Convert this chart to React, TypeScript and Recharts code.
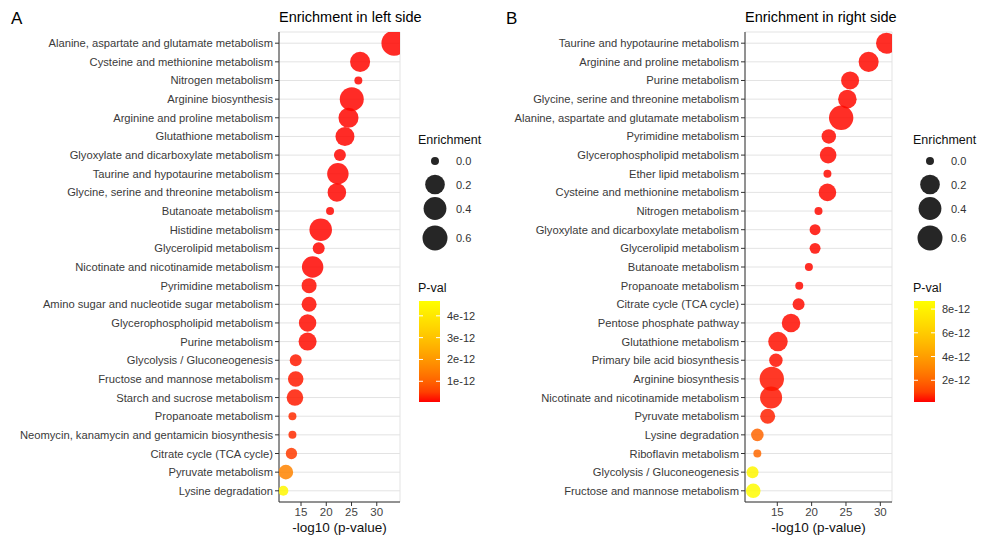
import { ScatterChart, Scatter, XAxis, YAxis, ZAxis, CartesianGrid, Cell } from "recharts";

// ---- panel A: enrichment in left side (top to bottom) ----
const leftPathways = [
  "Alanine, aspartate and glutamate metabolism",
  "Cysteine and methionine metabolism",
  "Nitrogen metabolism",
  "Arginine biosynthesis",
  "Arginine and proline metabolism",
  "Glutathione metabolism",
  "Glyoxylate and dicarboxylate metabolism",
  "Taurine and hypotaurine metabolism",
  "Glycine, serine and threonine metabolism",
  "Butanoate metabolism",
  "Histidine metabolism",
  "Glycerolipid metabolism",
  "Nicotinate and nicotinamide metabolism",
  "Pyrimidine metabolism",
  "Amino sugar and nucleotide sugar metabolism",
  "Glycerophospholipid metabolism",
  "Purine metabolism",
  "Glycolysis / Gluconeogenesis",
  "Fructose and mannose metabolism",
  "Starch and sucrose metabolism",
  "Propanoate metabolism",
  "Neomycin, kanamycin and gentamicin biosynthesis",
  "Citrate cycle (TCA cycle)",
  "Pyruvate metabolism",
  "Lysine degradation",
];
const leftNegLog10P = [
  33.4, 26.7, 26.35, 25.05, 24.4, 23.7, 22.7, 22.3, 22.1, 20.75, 18.9, 18.5, 17.3,
  16.6, 16.6, 16.3, 16.3, 13.95, 13.95, 13.8, 13.3, 13.3, 13.1, 12.0, 11.5,
];
const leftEnrichment = [
  0.6, 0.22, 0.0, 0.5, 0.22, 0.17, 0.012, 0.3, 0.15, 0.0, 0.38, 0.012, 0.3,
  0.05, 0.05, 0.11, 0.13, 0.012, 0.06, 0.086, 0.0, 0.0, 0.008, 0.043, 0.0025,
];
const leftPval = [
  0.06e-12, 0.06e-12, 0.06e-12, 0.06e-12, 0.06e-12, 0.06e-12, 0.06e-12, 0.06e-12, 0.06e-12,
  0.06e-12, 0.06e-12, 0.06e-12, 0.06e-12, 0.08e-12, 0.08e-12, 0.08e-12, 0.08e-12,
  0.15e-12, 0.15e-12, 0.15e-12, 0.3e-12, 0.3e-12, 0.45e-12, 1.6e-12, 4.45e-12,
];
const leftXTicks = [15, 20, 25, 30];
const leftGridTicks = [12.5, 15, 17.5, 20, 22.5, 25, 27.5, 30, 32.5];
const leftPTicks = [1e-12, 2e-12, 3e-12, 4e-12];

// ---- panel B: enrichment in right side (top to bottom) ----
const rightPathways = [
  "Taurine and hypotaurine metabolism",
  "Arginine and proline metabolism",
  "Purine metabolism",
  "Glycine, serine and threonine metabolism",
  "Alanine, aspartate and glutamate metabolism",
  "Pyrimidine metabolism",
  "Glycerophospholipid metabolism",
  "Ether lipid metabolism",
  "Cysteine and methionine metabolism",
  "Nitrogen metabolism",
  "Glyoxylate and dicarboxylate metabolism",
  "Glycerolipid metabolism",
  "Butanoate metabolism",
  "Propanoate metabolism",
  "Citrate cycle (TCA cycle)",
  "Pentose phosphate pathway",
  "Glutathione metabolism",
  "Primary bile acid biosynthesis",
  "Arginine biosynthesis",
  "Nicotinate and nicotinamide metabolism",
  "Pyruvate metabolism",
  "Lysine degradation",
  "Riboflavin metabolism",
  "Glycolysis / Gluconeogenesis",
  "Fructose and mannose metabolism",
];
const rightNegLog10P = [
  30.9, 28.3, 25.6, 25.2, 24.3, 22.5, 22.4, 22.3, 22.3, 21.0, 20.5, 20.5, 19.6,
  18.2, 18.1, 17.0, 15.1, 14.8, 14.2, 14.1, 13.6, 12.1, 12.1, 11.4, 11.5,
];
const rightEnrichment = [
  0.27, 0.22, 0.13, 0.15, 0.54, 0.04, 0.086, 0.0, 0.115, 0.0, 0.006, 0.006, 0.0,
  0.0, 0.012, 0.15, 0.19, 0.026, 0.54, 0.34, 0.05, 0.017, 0.0, 0.012, 0.043,
];
const rightPval = [
  0.2e-12, 0.2e-12, 0.2e-12, 0.2e-12, 0.2e-12, 0.2e-12, 0.2e-12, 0.2e-12, 0.2e-12,
  0.2e-12, 0.2e-12, 0.2e-12, 0.2e-12, 0.2e-12, 0.22e-12, 0.22e-12, 0.25e-12, 0.25e-12,
  0.3e-12, 0.3e-12, 0.45e-12, 2.0e-12, 2.1e-12, 8.2e-12, 8.5e-12,
];
const rightXTicks = [15, 20, 25, 30];
const rightGridTicks = [12.5, 15, 17.5, 20, 22.5, 25, 27.5, 30];
const rightPTicks = [2e-12, 4e-12, 6e-12, 8e-12];

const sizeBreaks = [0.0, 0.2, 0.4, 0.6];
const sizeRange = [50, 618]; // symbol area, px^2
const FONT = "'Liberation Sans', Arial, sans-serif";

// red -> yellow, roughly like ggplot's Lab gradient
function gradColor(t: number) {
  const c = Math.min(1, Math.max(0, t));
  return `rgb(255,${Math.round(255 * Math.pow(c, 0.6))},0)`;
}

function keyRadius(v: number) {
  const area = sizeRange[0] + (sizeRange[1] - sizeRange[0]) * Math.sqrt(v);
  return Math.sqrt(area / Math.PI);
}

// single-line category label (recharts would wrap long ones)
function RowTick(props: any) {
  const { x, y, payload, names } = props;
  return (
    <text x={x} y={y} textAnchor="end" dominantBaseline="central" fontSize={11.2} fill="#3A3A3A">
      {names[payload.value]}
    </text>
  );
}

interface PanelProps {
  left: number;
  yAxisWidth: number;
  plotWidth: number;
  names: string[];
  xs: number[];
  zs: number[];
  ps: number[];
  xDomain: [number, number];
  xTicks: number[];
  gridTicks: number[];
  pDomain: [number, number];
}

function Panel({ left, yAxisWidth, plotWidth, names, xs, zs, ps, xDomain, xTicks, gridTicks, pDomain }: PanelProps) {
  const rows = names.map((name, i) => ({ name, row: i, x: xs[i], z: zs[i], p: ps[i] }));
  const rowTicks = names.map((_, i) => i);
  const width = yAxisWidth + plotWidth + 2;
  return (
    <div style={{ position: "absolute", left, top: 0 }}>
      <ScatterChart width={width} height={536} margin={{ top: 32, right: 2, bottom: 0, left: 0 }}>
        <CartesianGrid xAxisId="top" stroke="#E3E3E3" strokeWidth={1} />
        <XAxis
          type="number"
          dataKey="x"
          domain={xDomain}
          ticks={xTicks}
          allowDataOverflow
          height={34}
          tickSize={4}
          tickMargin={2}
          tick={{ fontSize: 11.5, fill: "#444" }}
          tickLine={{ stroke: "#333" }}
          axisLine={{ stroke: "#333" }}
          label={{ value: "-log10 (p-value)", position: "insideBottom", offset: 4, fontSize: 13.5, fill: "#111" }}
        />
        <XAxis
          xAxisId="top"
          orientation="top"
          type="number"
          domain={xDomain}
          ticks={gridTicks}
          allowDataOverflow
          height={0}
          tick={false}
          tickLine={false}
          axisLine={{ stroke: "#333" }}
        />
        <YAxis
          type="number"
          dataKey="row"
          domain={[-0.6, names.length - 0.4]}
          reversed
          allowDataOverflow
          ticks={rowTicks}
          interval={0}
          width={yAxisWidth}
          tickSize={4}
          tickMargin={2}
          tick={<RowTick names={names} />}
          tickLine={{ stroke: "#333" }}
          axisLine={{ stroke: "#333" }}
        />
        <YAxis
          yAxisId="right"
          orientation="right"
          type="number"
          domain={[0, 1]}
          width={0}
          tick={false}
          tickLine={false}
          axisLine={{ stroke: "#333" }}
        />
        <ZAxis type="number" dataKey="z" domain={[0, 1]} range={sizeRange} scale="sqrt" />
        <Scatter data={rows} isAnimationActive={false} fillOpacity={0.85}>
          {rows.map((r, i) => (
            <Cell key={`c-${i}`} fill={gradColor((r.p - pDomain[0]) / (pDomain[1] - pDomain[0]))} />
          ))}
        </Scatter>
      </ScatterChart>
    </div>
  );
}

interface LegendProps {
  x: number;
  pDomain: [number, number];
  pTicks: number[];
  gradId: string;
}

function Legend({ x, pDomain, pTicks, gradId }: LegendProps) {
  const keyY = [161, 184.5, 208.5, 238];
  const barTop = 301;
  const barBottom = 402;
  const barW = 21;
  const stops = Array.from({ length: 11 }, (_, i) => i / 10);
  const yOf = (v: number) => barBottom - ((v - pDomain[0]) / (pDomain[1] - pDomain[0])) * (barBottom - barTop);
  return (
    <g>
      <defs>
        <linearGradient id={gradId} x1="0" y1="1" x2="0" y2="0">
          {stops.map((t) => (
            <stop key={t} offset={t} stopColor={gradColor(t)} />
          ))}
        </linearGradient>
      </defs>
      <text x={x} y={140} fontSize={12.5} fill="#111" dominantBaseline="central">Enrichment</text>
      {sizeBreaks.map((v, i) => (
        <g key={v}>
          <circle cx={x + 17} cy={keyY[i]} r={keyRadius(v)} fill="#262626" />
          <text x={x + 38} y={keyY[i]} fontSize={11} fill="#333" dominantBaseline="central">{v.toFixed(1)}</text>
        </g>
      ))}
      <text x={x} y={288} fontSize={12.5} fill="#111" dominantBaseline="central">P-val</text>
      <rect x={x + 1} y={barTop} width={barW} height={barBottom - barTop} fill={`url(#${gradId})`} />
      {pTicks.map((v) => (
        <g key={v}>
          <line x1={x + 1} x2={x + 5} y1={yOf(v)} y2={yOf(v)} stroke="#fff" strokeWidth={1} />
          <line x1={x + barW - 3} x2={x + barW + 1} y1={yOf(v)} y2={yOf(v)} stroke="#fff" strokeWidth={1} />
          <text x={x + 29} y={yOf(v)} fontSize={11} fill="#333" dominantBaseline="central">
            {`${Math.round(v * 1e12)}e-12`}
          </text>
        </g>
      ))}
    </g>
  );
}

export default function App() {
  const leftP: [number, number] = [0.05e-12, 4.68e-12];
  const rightP: [number, number] = [0.17e-12, 8.68e-12];
  return (
    <div style={{ position: "absolute", left: 0, top: 0, width: 982, height: 536, background: "#fff", fontFamily: FONT }}>
      <Panel
        left={0}
        yAxisWidth={279}
        plotWidth={121}
        names={leftPathways}
        xs={leftNegLog10P}
        zs={leftEnrichment}
        ps={leftPval}
        xDomain={[10.64, 34.6]}
        xTicks={leftXTicks}
        gridTicks={leftGridTicks}
        pDomain={leftP}
      />
      <Panel
        left={480}
        yAxisWidth={265}
        plotWidth={147}
        names={rightPathways}
        xs={rightNegLog10P}
        zs={rightEnrichment}
        ps={rightPval}
        xDomain={[10.3, 31.7]}
        xTicks={rightXTicks}
        gridTicks={rightGridTicks}
        pDomain={rightP}
      />
      <svg width={982} height={536} style={{ position: "absolute", left: 0, top: 0, pointerEvents: "none" }}>
        <text x={11} y={18} fontSize={17} fill="#000" dominantBaseline="central">A</text>
        <text x={506} y={18} fontSize={17} fill="#000" dominantBaseline="central">B</text>
        <text x={279} y={17} fontSize={14.5} fill="#000" dominantBaseline="central">Enrichment in left side</text>
        <text x={745} y={17} fontSize={14.5} fill="#000" dominantBaseline="central">Enrichment in right side</text>
        <Legend x={418} pDomain={leftP} pTicks={leftPTicks} gradId="gradLeft" />
        <Legend x={913} pDomain={rightP} pTicks={rightPTicks} gradId="gradRight" />
      </svg>
    </div>
  );
}
